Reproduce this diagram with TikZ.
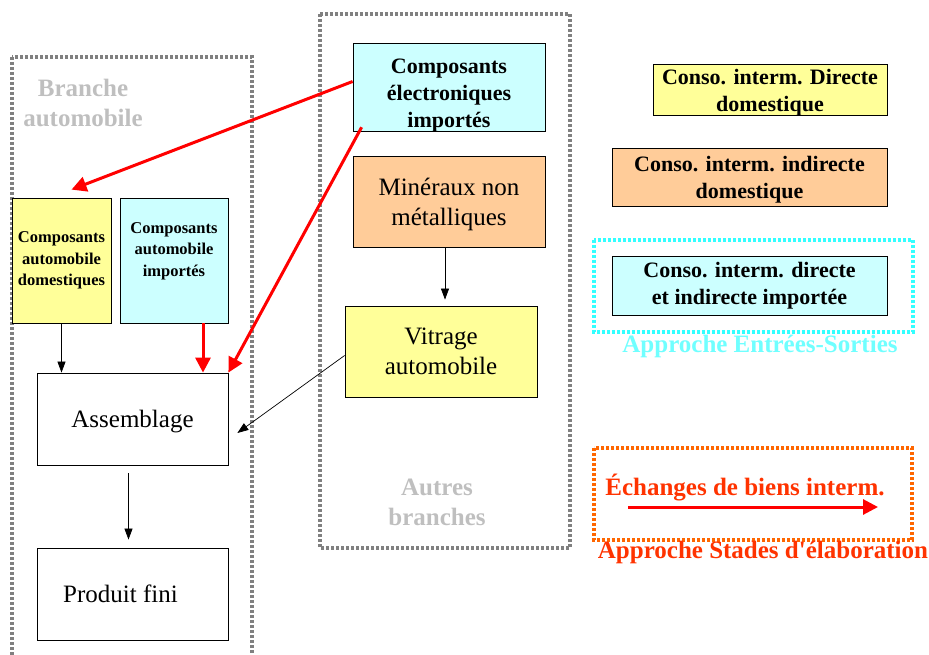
\documentclass[tikz,border=0pt]{standalone}
\usepackage{fontspec}
\setmainfont{Liberation Serif}
\usepackage{xcolor}
\usetikzlibrary{arrows.meta}

\definecolor{jaune}{HTML}{FFFF99}
\definecolor{cyanclair}{HTML}{CCFFFF}
\definecolor{orangeclair}{HTML}{FFCC99}
\definecolor{grisclair}{HTML}{BFBFBF}
\definecolor{cyanvif}{HTML}{33FFFF}
\definecolor{orangevif}{HTML}{FF6600}
\definecolor{rougeorange}{HTML}{FF3300}

\begin{document}
\begin{tikzpicture}[x=1pt, y=-1pt,
  boite/.style={draw, line width=0.8pt, inner sep=0pt, align=center},
  grand/.style={font=\fontsize{25}{30}\selectfont},
  moyen/.style={font=\bfseries\fontsize{22}{27}\selectfont},
  petit/.style={font=\bfseries\fontsize{16.5}{21.5}\selectfont},
  titre/.style={align=center, font=\bfseries\fontsize{25}{30}\selectfont},
  fleche/.style={-{Triangle[width=8pt,length=11pt]}, line width=0.7pt},
  rouge/.style={-{Triangle[width=15pt,length=15pt]}, line width=3pt, red},
  cadre/.style={line width=3.8pt, dash pattern=on 3pt off 2pt}]
\useasboundingbox (0,0) rectangle (929,655);

% cadres des branches
\draw[cadre, gray] (12,57) rectangle (252,680);
\draw[cadre, gray] (320,14) rectangle (570,548);
\node[titre, grisclair] (branche) at (83,103) {Branche\\automobile};
\node[titre, grisclair] (autres) at (437,502) {Autres\\branches};

% branche automobile
\node[boite, petit, fill=jaune, minimum width=99pt, minimum height=125pt] (dom) at (61.5,260.5) {Composants\\automobile\\domestiques};
\node[boite, petit, fill=cyanclair, minimum width=108pt, minimum height=125pt] (imp) at (174,260.5) {Composants\\automobile\\importés\rule[-22pt]{0pt}{0pt}};
\node[boite, grand, fill=white, minimum width=191pt, minimum height=92pt] (asm) at (132.5,419) {\rule{0pt}{22pt}Assemblage};
\node[boite, grand, fill=white, minimum width=191pt, minimum height=92pt] (fin) at (132.5,594) {Produit fini\hspace*{24pt}};

% autres branches
\node[boite, moyen, fill=cyanclair, minimum width=192pt, minimum height=85pt] (elec) at (449,87.5) {\rule{0pt}{30pt}Composants\\électroniques\\importés};
\node[boite, grand, fill=orangeclair, minimum width=192pt, minimum height=91pt] (min) at (449,201.5) {\rule{0pt}{24pt}Minéraux non\\métalliques};
\node[boite, grand, fill=jaune, minimum width=192pt, minimum height=91pt] (vit) at (441,351.5) {Vitrage\\automobile};

% liaisons
\draw[fleche] (dom.south) -- (dom.south |- asm.north);
\draw[rouge] ([xshift=29pt]imp.south) -- ([xshift=29pt]imp.south |- asm.north);
\draw[rouge] ([yshift=6pt]elec.west) -- ([shift={(10pt,8pt)}]dom.north);
\draw[rouge] ([shift={(9pt,5pt)}]elec.south west) -- (asm.north east);
\draw[fleche] ([xshift=-4pt]min.south) -- ([shift={(4pt,6pt)}]vit.north);
\draw[fleche] ([yshift=-4pt]vit.west) -- ([shift={(9pt,-14pt)}]asm.east);
\draw[fleche] ([shift={(-4pt,-8pt)}]asm.south) -- ([shift={(-4pt,8pt)}]fin.north);

% legende
\node[boite, moyen, fill=jaune, minimum width=234pt, minimum height=50pt] (cid) at (770,90) {\rule{0pt}{20pt}Conso. interm. Directe\\domestique};
\node[boite, moyen, fill=orangeclair, minimum width=275pt, minimum height=58pt] (cii) at (749.5,177) {\rule{0pt}{20pt}Conso. interm. indirecte\\domestique};
\node[boite, moyen, fill=cyanclair, minimum width=275pt, minimum height=59pt] (cim) at (749.5,285.5) {Conso. interm. directe\\et indirecte importée};
\draw[cadre, cyanvif] (594,240) rectangle (913,332);
\node[titre, cyanvif!70!white] (entsor) at (760,346) {Approche Entrées-Sorties};

\draw[cadre, orangevif] (594,448) rectangle (912,540);
\node[titre, rougeorange] (echange) at (745,488) {Échanges de biens interm.};
\coordinate (legA) at (628,507);
\coordinate (legB) at (878,507);
\draw[rouge] (legA) -- (legB);
\node[titre, rougeorange] (stades) at (763,552) {Approche Stades d\textquotesingle élaboration};
\end{tikzpicture}
\end{document}
